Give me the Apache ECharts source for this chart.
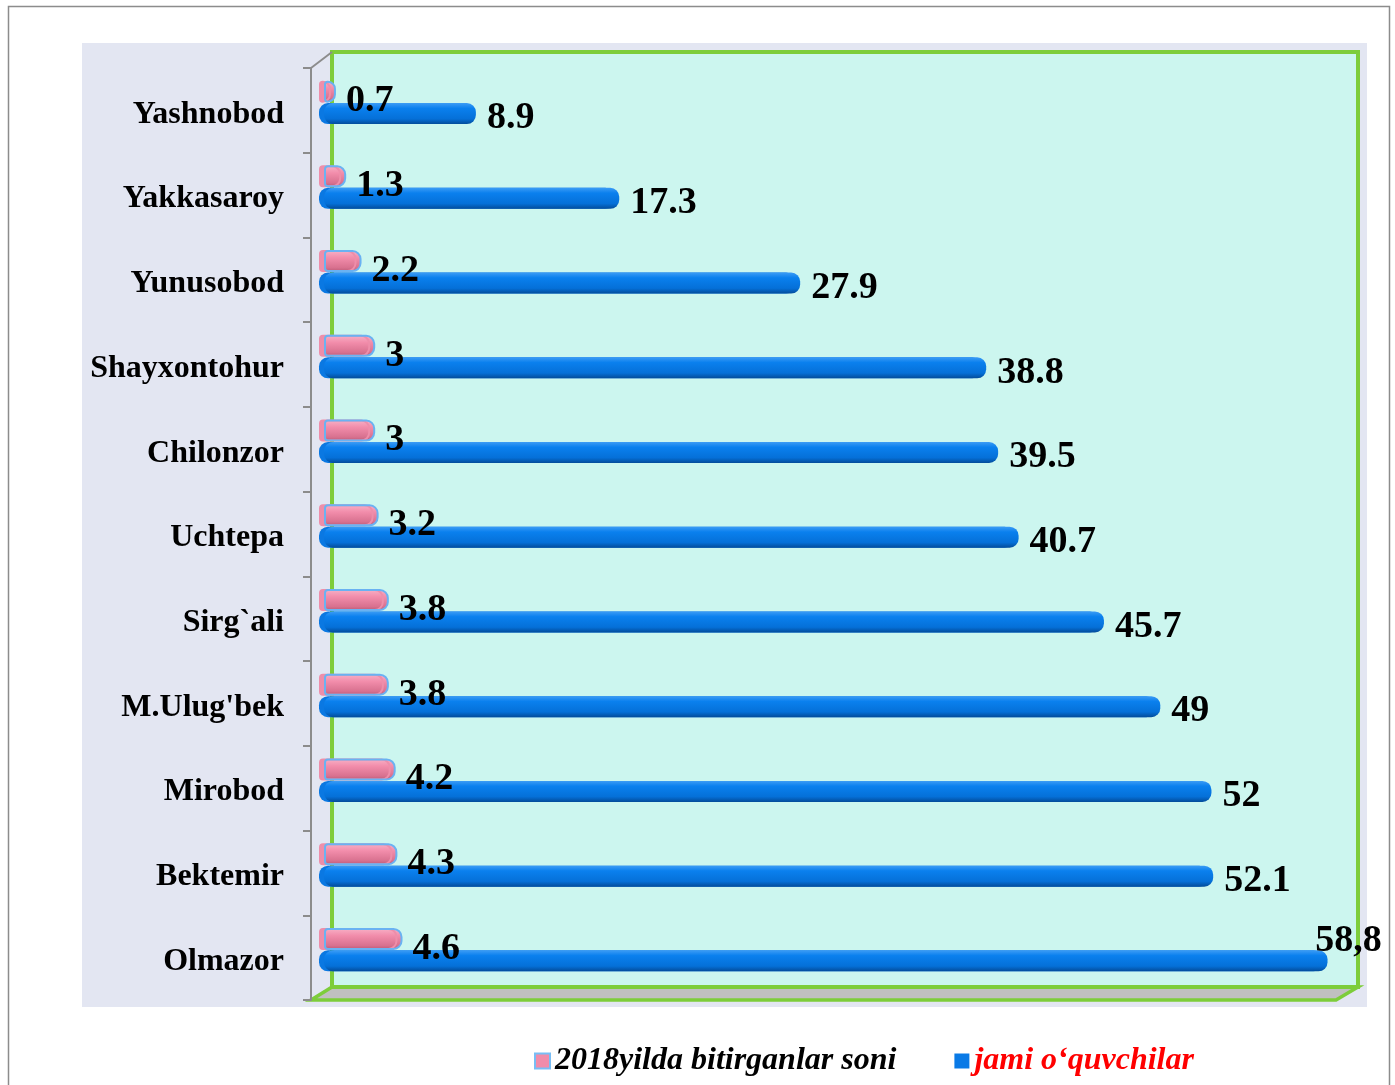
<!DOCTYPE html>
<html>
<head>
<meta charset="utf-8">
<script src="https://cdn.jsdelivr.net/npm/echarts@6/dist/echarts.min.js"></script>
<style>
html,body{margin:0;padding:0;background:#fff;}
#c{width:1395px;height:1085px;}
</style>
</head>
<body>
<div id="c"></div>
<script>
const categories = ['Yashnobod','Yakkasaroy','Yunusobod','Shayxontohur','Chilonzor','Uchtepa','Sirg`ali',"M.Ulug'bek",'Mirobod','Bektemir','Olmazor'];
const graduates2018 = [0.7,1.3,2.2,3,3,3.2,3.8,3.8,4.2,4.3,4.6];
const totalPupils = [8.9,17.3,27.9,38.8,39.5,40.7,45.7,49,52,52.1,58.8];
const seriesNames = ['2018yilda bitirganlar soni','jami o‘quvchilar'];

const FONT = '"Times New Roman","Liberation Serif",serif';
const chart = echarts.init(document.getElementById('c'), null, {renderer:'canvas'});

const blueData = totalPupils.map((v,i) => {
  if (i === totalPupils.length - 1) {
    return {value: v, label: {position: ['100%', 0], align: 'center', verticalAlign: 'bottom', offset: [21, 10], formatter: p => String(p.value).replace('.', ',')}};
  }
  return v;
});

const option = {
  backgroundColor: '#ffffff',
  animation: false,
  graphic: [
    {type:'rect', z:-20, shape:{x:8.5,y:6.5,width:1381,height:1100}, style:{fill:'#fff', stroke:'#8c8c8c', lineWidth:1.5}},
    {type:'rect', z:-19, shape:{x:82,y:43,width:1285,height:964}, style:{fill:'#E3E6F2'}},
    {type:'polygon', z:-18, shape:{points:[[311,1000],[1336,1000],[1358,987],[332,987]]}, style:{fill:'#C0C0C0', stroke:'#7DCD3A', lineWidth:3.5}},
    {type:'rect', z:-17, shape:{x:332,y:52,width:1026,height:935}, style:{fill:'#CCF6EF', stroke:'#7DCD3A', lineWidth:4}},
    {type:'line', z:-16, shape:{x1:311,y1:68,x2:332,y2:52}, style:{stroke:'#8c8c8c', lineWidth:2}}
  ],
  legend: {
    left: 529, top: 1040,
    itemGap: 58, itemWidth: 15, itemHeight: 15,
    icon: 'rect',
    textStyle: {fontFamily: FONT, fontStyle:'italic', fontWeight:'bold', fontSize:32, color:'#000', padding:[2,0,0,0]},
    data: [
      {name: seriesNames[0], itemStyle:{color:'#F08CAA', borderColor:'#78BDF5', borderWidth:2}},
      {name: seriesNames[1], itemStyle:{color:'#0A7AE6', borderWidth:0}, textStyle:{color:'#FF0000'}}
    ]
  },
  grid: [
    {left: 311, top: 68, height: 932, width: 1040},
    {left: 324, top: 60, height: 932, width: 1024}
  ],
  xAxis: [
    {gridIndex:0, type:'value', min:0, max:60, show:false},
    {gridIndex:1, type:'value', min:0, max:60, show:false}
  ],
  yAxis: [
    {gridIndex:0, type:'category', inverse:true, data: categories,
     axisLine:{show:true, lineStyle:{color:'#8c8c8c', width:2}},
     axisTick:{show:true, length:8, lineStyle:{color:'#8c8c8c', width:2}},
     axisLabel:{margin:27, color:'#000', fontFamily:FONT, fontWeight:'bold', fontSize:32, verticalAlign:'top', lineHeight:8}},
    {gridIndex:1, type:'category', inverse:true, data: categories, show:false}
  ],
  series: [
    {
      name: seriesNames[0], type:'bar', xAxisIndex:1, yAxisIndex:1,
      data: graduates2018, barWidth: 22, barGap: '2%',
      itemStyle: {
        color: new echarts.graphic.LinearGradient(0,0,0,1,[
          {offset:0, color:'#F7B3C8'},{offset:0.35, color:'#F28DAB'},{offset:0.8, color:'#D8718F'},{offset:1, color:'#B85673'}
        ]),
        borderColor:'#6AB2F2', borderWidth:2, borderRadius:[3,8,8,3],
        shadowColor:'#EE8EAA', shadowBlur:0, shadowOffsetX:-5, shadowOffsetY:0
      },
      label: {show:true, position:'right', distance:10, offset:[0,10], color:'#000', fontFamily:FONT, fontWeight:'bold', fontSize:38}
    },
    {
      name: seriesNames[1], type:'bar', xAxisIndex:1, yAxisIndex:1,
      data: blueData, barWidth: 21,
      itemStyle: {
        color: new echarts.graphic.LinearGradient(0,0,0,1,[
          {offset:0, color:'#3C9CF5'},{offset:0.25, color:'#0A80EE'},{offset:0.75, color:'#0570D8'},{offset:1, color:'#034C9A'}
        ]),
        borderRadius:9,
        shadowColor:'#0A78E2', shadowBlur:0, shadowOffsetX:-5, shadowOffsetY:0
      },
      label: {show:true, position:'right', distance:11, offset:[0,5], color:'#000', fontFamily:FONT, fontWeight:'bold', fontSize:38}
    }
  ]
};
chart.setOption(option);
</script>
</body>
</html>
